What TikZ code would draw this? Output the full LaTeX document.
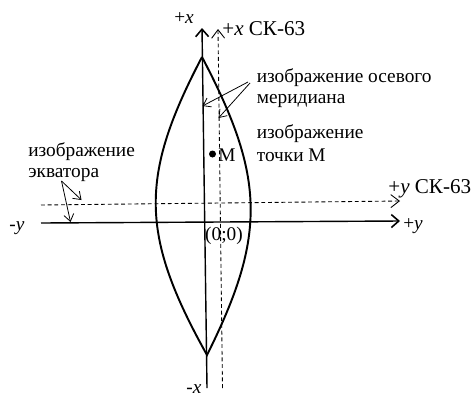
\documentclass[tikz,border=0pt]{standalone}
\usepackage{fontspec}
\setmainfont{Liberation Serif}
\usetikzlibrary{arrows.meta}

\begin{document}
\begin{tikzpicture}[font=\fontsize{11}{12}\selectfont,
  axis/.style={line width=0.8pt, -{Straight Barb[length=1.5mm,width=2.6mm,line width=0.9pt]}},
  gkaxis/.style={line width=0.5pt, dash pattern=on 2.2pt off 1.6pt, -{Straight Barb[length=1.7mm,width=2.6mm,line width=0.5pt]}},
  ptr/.style={line width=0.45pt, -{Straight Barb[length=1.4mm,width=2mm,line width=0.45pt]}},
  lbl/.style={align=left, anchor=north west, inner sep=0pt},
  sk/.style={anchor=west, inner sep=0pt, font=\fontsize{12}{13}\selectfont}]
\useasboundingbox (0,0) rectangle (9.48,7.90);
% ---- axes of the image and of the SK-63 system
\coordinate (xs) at (4.14,0.14); \coordinate (xn) at (4.04,7.34);
\coordinate (ws) at (0.82,3.44); \coordinate (es) at (8.00,3.48);
\coordinate (gxs) at (4.45,0.14); \coordinate (gxn) at (4.36,7.32);
\coordinate (gws) at (0.82,3.80); \coordinate (ges) at (8.00,3.88);
\draw[axis] (xs) -- (xn);
\draw[axis] (ws) -- (es);
\draw[gkaxis] (gxs) -- (gxn);
\draw[gkaxis] (gws) -- (ges);
% ---- zone outline
\coordinate (top) at (4.04,6.76); \coordinate (bot) at (4.14,0.80);
\draw[line width=1.1pt] (top) .. controls (2.78,4.36) and (2.80,3.20) .. (bot)
  .. controls (5.34,3.20) and (5.30,4.36) .. (top);
% ---- point M
\node[circle, fill, inner sep=0pt, minimum size=1.4mm] (pm) at (4.25,4.82) {};
\node[anchor=west, inner sep=0pt] (pmlbl) at (4.36,4.80) {M};
% ---- axis labels
\node (xplus) at (3.68,7.54) {+\textit{x}};
\node[sk] (gxplus) at (4.44,7.32) {+\textit{x} СК-63};
\node (xminus) at (3.88,0.12) {-\textit{x}};
\node (yminus) at (0.34,3.34) {-\textit{y}};
\node (yplus) at (8.26,3.38) {+\textit{y}};
\node[sk] (gyplus) at (7.76,4.12) {+\textit{y} СК-63};
\node (orig) at (4.48,3.18) {(0;0)};
% ---- captions with pointers
\node[lbl] (merid) at (5.13,6.54) {изображение осевого\\ меридиана};
\node[lbl] (ptlbl) at (5.13,5.42) {изображение\\[1pt] точки М};
\node[lbl] (equat) at (0.56,5.06) {изображение\\ экватора};
\coordinate (mer1) at (4.96,6.26); \coordinate (mer2) at (5.00,6.24);
\coordinate (merx) at (4.05,5.78); \coordinate (mergx) at (4.37,5.54);
\coordinate (eq0) at (1.23,4.28);
\coordinate (eqg) at (1.63,3.90); \coordinate (eqy) at (1.41,3.46);
\draw[ptr] (mer1) -- (merx);
\draw[ptr] (mer2) -- (mergx);
\draw[ptr] (eq0) -- (eqg);
\draw[ptr] (eq0) -- (eqy);
\end{tikzpicture}
\end{document}
